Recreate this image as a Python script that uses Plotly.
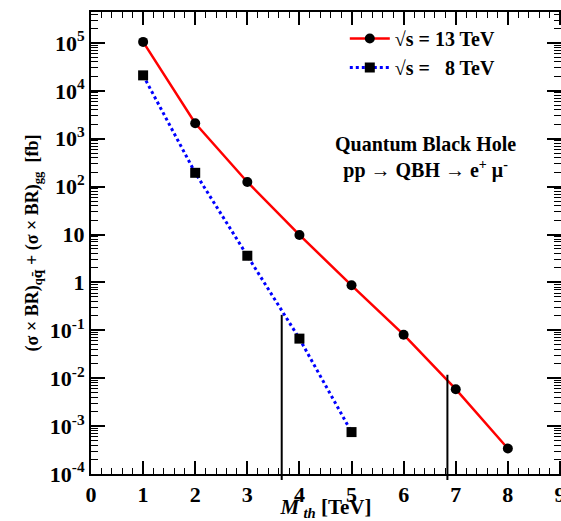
import plotly.graph_objects as go

# Data
mass_13 = [1, 2, 3, 4, 5, 6, 7, 8]
xsec_13 = [1.05e5, 2.1e3, 125, 9.8, 0.87, 0.081, 0.0059, 3.4e-4]
mass_8 = [1, 2, 3, 4, 5]
xsec_8 = [2.1e4, 194, 3.6, 0.067, 7.5e-4]

# Vertical limit lines (x position, top value)
limit_x = [3.66, 6.84]
limit_top = [0.21, 0.0118]
y_bottom = 1e-4

y_tickvals = [1e-4, 1e-3, 1e-2, 1e-1, 1, 10, 1e2, 1e3, 1e4, 1e5]
y_ticktext = ["10<sup>-4</sup>", "10<sup>-3</sup>", "10<sup>-2</sup>", "10<sup>-1</sup>",
              "1", "10", "10<sup>2</sup>", "10<sup>3</sup>", "10<sup>4</sup>", "10<sup>5</sup>"]
x_tickvals = [0, 1, 2, 3, 4, 5, 6, 7, 8, 9]
x_ticktext = ["0", "1", "2", "3", "4", "5", "6", "7", "8", "9"]

FONT = "Liberation Serif"

fig = go.Figure()

fig.add_trace(go.Scatter(
    x=mass_13, y=xsec_13, mode="lines+markers",
    name="<b>\u221as = 13 TeV</b>",
    line=dict(color="#ff0000", width=2.5),
    marker=dict(symbol="circle", size=10, color="black"),
    legendgroup="a",
))
fig.add_trace(go.Scatter(
    x=mass_8, y=xsec_8, mode="lines+markers",
    name="<b>\u221as =\u00a0\u00a0 8 TeV</b>",
    line=dict(color="#0000ff", width=3, dash="dot"),
    marker=dict(symbol="square", size=10, color="black"),
    legendgroup="b",
))

for lx, lt in zip(limit_x, limit_top):
    fig.add_trace(go.Scatter(
        x=[lx, lx], y=[lt, y_bottom], mode="lines",
        line=dict(color="black", width=2), showlegend=False, hoverinfo="skip",
    ))
    fig.add_shape(type="line", xref="x", yref="paper", x0=lx, x1=lx, y0=-0.013, y1=0,
                  line=dict(color="black", width=2))

fig.add_annotation(
    xref="paper", yref="paper", x=0.712, y=0.685, xanchor="center", yanchor="middle",
    text="<b>Quantum Black Hole<br>pp \u2192 QBH \u2192 e<sup>+</sup> \u03bc<sup>-</sup></b>",
    showarrow=False, font=dict(family=FONT, size=20, color="black"),
    align="center",
)

axis_common = dict(
    showline=True, linecolor="black", linewidth=2, mirror="allticks",
    ticks="inside", tickcolor="black", tickwidth=1.5,
    showgrid=False, zeroline=False, automargin=False,
    tickfont=dict(family=FONT, size=22, color="black"),
    ticklabeloverflow="allow",
)

fig.update_xaxes(
    range=[0, 9.02], tickvals=x_tickvals, ticktext=["<b>%s</b>" % t for t in x_ticktext], ticklen=13,
    minor=dict(ticks="inside", dtick=0.2, ticklen=6, tickcolor="black", tickwidth=1.2),
    title=dict(text="<b><i>M</i>\u2009<sub><i>th</i></sub> [TeV]</b>",
               font=dict(family=FONT, size=21, color="black"), standoff=0),
    **axis_common,
)
fig.update_yaxes(
    type="log", range=[-4, 5.645], tickvals=y_tickvals,
    ticktext=["<b>%s</b>" % t for t in y_ticktext], ticklen=14,
    minor=dict(ticks="inside", dtick="D1", ticklen=7, tickcolor="black", tickwidth=1.2),
    title=dict(text="<b>(\u03c3 \u00d7 BR)<sub>q<span style=\"font-family:DejaVu Serif\">q\u0304</span></sub> + (\u03c3 \u00d7 BR)<sub>gg</sub>  [fb]</b>",
               font=dict(family=FONT, size=18, color="black"), standoff=6),
    **axis_common,
)

fig.update_layout(
    width=561, height=521,
    margin=dict(l=91, r=0, t=12, b=47),
    paper_bgcolor="white", plot_bgcolor="white",
    legend=dict(x=0.54, y=0.985, xanchor="left", yanchor="top",
                font=dict(family=FONT, size=20, color="black"),
                bgcolor="rgba(0,0,0,0)", tracegroupgap=15, traceorder="normal",
                itemwidth=40),
)

fig.write_html("out.html", config={"displayModeBar": False},
               post_script="document.body.style.margin='0';")
